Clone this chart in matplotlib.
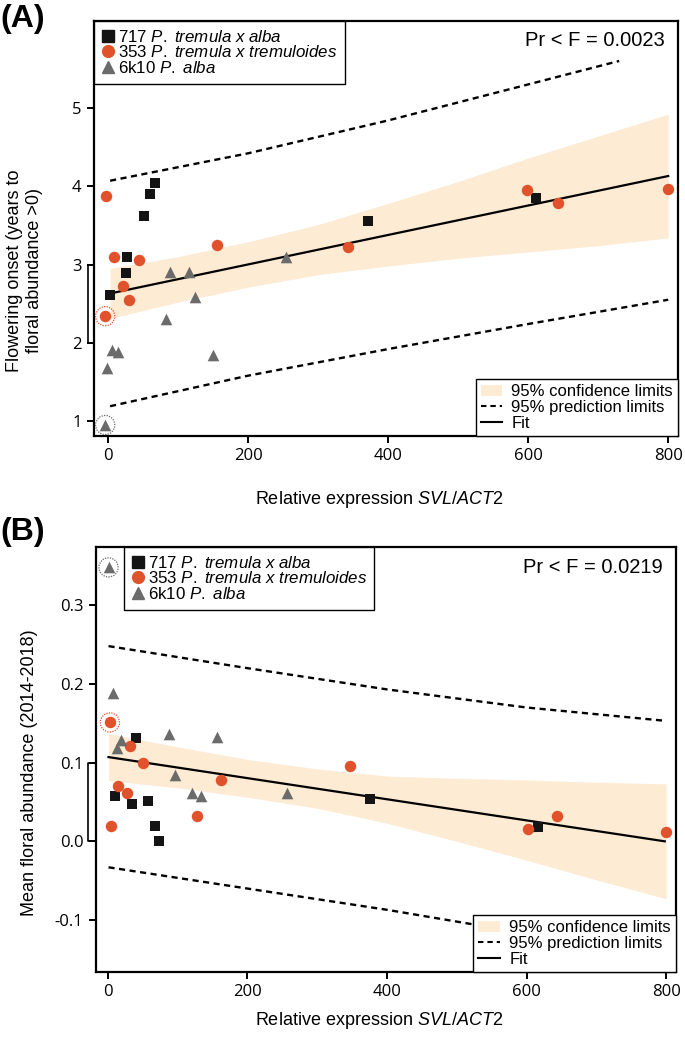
import numpy as np
import matplotlib
matplotlib.use("Agg")
import matplotlib.pyplot as plt
from matplotlib.lines import Line2D
from matplotlib.patches import Patch

plt.rcParams['font.family'] = ['Liberation Sans', 'DejaVu Sans']
plt.rcParams['mathtext.fontset'] = 'custom'
plt.rcParams['mathtext.rm'] = 'Liberation Sans'
plt.rcParams['mathtext.it'] = 'Liberation Sans:italic'

# ---- panel A data: flowering onset ----
a_717_x = [3, 27, 26, 51, 60, 67, 372, 611]
a_717_y = [2.61, 3.10, 2.89, 3.62, 3.90, 4.04, 3.56, 3.85]
a_353_x = [-3, 9, 44, 21, 30, -4, 155, 343, 599, 643, 800]
a_353_y = [3.88, 3.10, 3.06, 2.72, 2.55, 2.34, 3.25, 3.22, 3.95, 3.78, 3.96]
a_6k10_x = [-4, -1, 6, 15, 89, 115, 124, 83, 150, 254]
a_6k10_y = [0.95, 1.68, 1.91, 1.88, 2.91, 2.91, 2.58, 2.30, 1.84, 3.09]
a_circled = [(-4, 2.34, 'o'), (-4, 0.95, 't')]

a_fit_x = [3, 800]
a_fit_y = [2.63, 4.13]
a_ci_x = [3, 100, 200, 300, 400, 500, 600, 700, 800]
a_ci_hi = [2.95, 3.10, 3.29, 3.51, 3.78, 4.06, 4.36, 4.64, 4.92]
a_ci_lo = [2.31, 2.52, 2.71, 2.87, 2.98, 3.08, 3.16, 3.24, 3.34]
a_pi_hi_x = [3, 200, 400, 600, 730]
a_pi_hi = [4.07, 4.42, 4.84, 5.30, 5.60]
a_pi_lo_x = [3, 200, 400, 600, 800]
a_pi_lo = [1.19, 1.58, 1.92, 2.24, 2.55]

# ---- panel B data: mean floral abundance ----
b_717_x = [10, 40, 34, 58, 68, 74, 375, 616]
b_717_y = [0.057, 0.131, 0.048, 0.051, 0.019, 0.000, 0.054, 0.018]
b_353_x = [3, 4, 15, 27, 32, 50, 162, 128, 347, 602, 644, 800]
b_353_y = [0.151, 0.020, 0.070, 0.062, 0.121, 0.100, 0.078, 0.032, 0.096, 0.016, 0.032, 0.012]
b_6k10_x = [1, 8, 13, 19, 87, 96, 120, 133, 157, 257]
b_6k10_y = [0.348, 0.189, 0.119, 0.129, 0.136, 0.084, 0.061, 0.058, 0.132, 0.062]
b_circled = [(1, 0.348, 't'), (3, 0.151, 'o')]

b_fit_x = [1, 798]
b_fit_y = [0.107, 0.000]
b_ci_x = [1, 100, 200, 300, 400, 500, 600, 700, 800]
b_ci_hi = [0.137, 0.120, 0.104, 0.092, 0.083, 0.080, 0.078, 0.075, 0.073]
b_ci_lo = [0.077, 0.068, 0.056, 0.042, 0.023, 0.000, -0.024, -0.049, -0.073]
b_pi_x = [1, 200, 400, 600, 800]
b_pi_hi = [0.248, 0.220, 0.193, 0.170, 0.153]
b_pi_lo = [-0.033, -0.060, -0.087, -0.117, -0.153]

species = ["717 $\\it{P.\\ tremula\\ x\\ alba}$",
           "353 $\\it{P.\\ tremula\\ x\\ tremuloides}$",
           "6k10 $\\it{P.\\ alba}$"]
x_ticks = [0, 200, 400, 600, 800]

c_black = '#141414'
c_orange = '#E0522C'
c_gray = '#6b6b6b'
c_band = '#FDEBD3'
dash = (0, (2.6, 1.9))


def draw_panel(ax, pts, circled, fit_x, fit_y, ci_x, ci_hi, ci_lo,
               pihx, pih, pilx, pil):
    ax.fill_between(ci_x, ci_lo, ci_hi, color=c_band, lw=0, zorder=1)
    ax.plot(pihx, pih, color='black', ls=dash, lw=1.7, zorder=2)
    ax.plot(pilx, pil, color='black', ls=dash, lw=1.7, zorder=2)
    ax.plot(fit_x, fit_y, color='black', lw=1.6, zorder=3)
    (x1, y1), (x2, y2), (x3, y3) = pts
    ax.scatter(x1, y1, marker='s', s=62, color=c_black, lw=0, zorder=4)
    ax.scatter(x2, y2, marker='o', s=68, color=c_orange, lw=0, zorder=4)
    ax.scatter(x3, y3, marker='^', s=70, color=c_gray, lw=0, zorder=4)
    for cx, cy, kind in circled:
        col = c_orange if kind == 'o' else c_gray
        ax.scatter([cx], [cy], marker='o', s=190, facecolors='none',
                   edgecolors=col, linewidths=0.9, linestyle=(0, (1, 1)),
                   zorder=5)
    for s in ax.spines.values():
        s.set_linewidth(1.6)
    ax.tick_params(direction='out', length=5, width=1.4, labelsize=12,
                   pad=4)
    ax.set_xticks(x_ticks)


def species_legend(ax, anchor_x):
    h = [Line2D([], [], ls='none', marker='s', ms=8, color=c_black),
         Line2D([], [], ls='none', marker='o', ms=8.5, color=c_orange),
         Line2D([], [], ls='none', marker='^', ms=8.5, color=c_gray)]
    leg = ax.legend(h, species, loc='upper left', bbox_to_anchor=(anchor_x, 1),
                    borderaxespad=0, fontsize=12.2, handlelength=0.8,
                    handletextpad=0.15, labelspacing=-0.02, borderpad=0.45,
                    fancybox=False, framealpha=1, edgecolor='black')
    leg.get_frame().set_linewidth(1.0)
    leg.set_zorder(10)
    return leg


def fit_legend(ax):
    h = [Patch(facecolor=c_band, edgecolor='none'),
         Line2D([], [], color='black', ls=dash, lw=1.5),
         Line2D([], [], color='black', lw=1.5)]
    labs = ["95% confidence limits", "95% prediction limits", "Fit"]
    leg = ax.legend(h, labs, loc='lower right', borderaxespad=0, fontsize=12,
                    handlelength=1.3, handletextpad=0.55, labelspacing=0.05,
                    borderpad=0.3, fancybox=False, framealpha=1,
                    edgecolor='black')
    leg.get_frame().set_linewidth(1.0)
    leg.set_zorder(10)
    return leg


def bracket(ax, x_in, x_out, y_lo, y_hi):
    ax.plot([x_in, x_out, x_out, x_in], [y_hi, y_hi, y_lo, y_lo],
            color='black', lw=1.2, clip_on=False, zorder=6)


def tick_font(ax):
    for lab in ax.get_xticklabels() + ax.get_yticklabels():
        lab.set_fontfamily(['Open Sans', 'DejaVu Sans'])


fig = plt.figure(figsize=(6.85, 10.4), dpi=100)

# ---------- panel A ----------
axA = fig.add_axes([0.1372, 0.5808, 0.8526, 0.399])
draw_panel(axA, [(a_717_x, a_717_y), (a_353_x, a_353_y), (a_6k10_x, a_6k10_y)],
           a_circled, a_fit_x, a_fit_y, a_ci_x, a_ci_hi, a_ci_lo,
           a_pi_hi_x, a_pi_hi, a_pi_lo_x, a_pi_lo)
axA.set_xlim(-20, 814)
axA.set_ylim(0.81, 6.11)
axA.set_yticks([1, 2, 3, 4, 5])
axA.set_yticklabels(['1', '2', '3', '4', '5'])
axA.set_xticklabels([str(v) for v in x_ticks])
tick_font(axA)
axA.set_ylabel("Flowering onset (years to\nfloral abundance >0)",
               fontsize=13, va='center')
axA.yaxis.set_label_coords(-0.119, 0.398)
axA.set_xlabel("Relative expression $\\it{SVL/ACT2}$", fontsize=13,
               va='center')
axA.xaxis.set_label_coords(0.488, -0.152)
leg1 = species_legend(axA, 0.0)
axA.add_artist(leg1)
fit_legend(axA)
axA.text(0.978, 0.954, "Pr < F = 0.0023", transform=axA.transAxes,
         ha='right', va='center', fontsize=14.5)
bracket(axA, -20, -28.6, 2, 3)

# ---------- panel B ----------
axB = fig.add_axes([0.1401, 0.0654, 0.8467, 0.4087])
draw_panel(axB, [(b_717_x, b_717_y), (b_353_x, b_353_y), (b_6k10_x, b_6k10_y)],
           b_circled, b_fit_x, b_fit_y, b_ci_x, b_ci_hi, b_ci_lo,
           b_pi_x, b_pi_hi, b_pi_x, b_pi_lo)
axB.set_xlim(-17, 814)
axB.set_ylim(-0.166, 0.374)
axB.set_yticks([-0.1, 0.0, 0.1, 0.2, 0.3])
axB.set_yticklabels(['-0.1', '0.0', '0.1', '0.2', '0.3'])
axB.set_xticklabels([str(v) for v in x_ticks])
tick_font(axB)
axB.set_ylabel("Mean floral abundance (2014-2018)", fontsize=13, va='center')
axB.yaxis.set_label_coords(-0.114, 0.47)
axB.set_xlabel("Relative expression $\\it{SVL/ACT2}$", fontsize=13,
               va='center')
axB.xaxis.set_label_coords(0.488, -0.113)
leg2 = species_legend(axB, 0.048)
axB.add_artist(leg2)
fit_legend(axB)
axB.text(0.978, 0.951, "Pr < F = 0.0219", transform=axB.transAxes,
         ha='right', va='center', fontsize=14.5)
bracket(axB, -17, -28.7, 0.0, 0.1)

fig.text(0.0, 1 - 4 / 1040, "(A)", fontsize=23, fontweight='bold',
         ha='left', va='top')
fig.text(0.0, 1 - 517 / 1040, "(B)", fontsize=23, fontweight='bold',
         ha='left', va='top')

fig.savefig("out.png", dpi=100)
